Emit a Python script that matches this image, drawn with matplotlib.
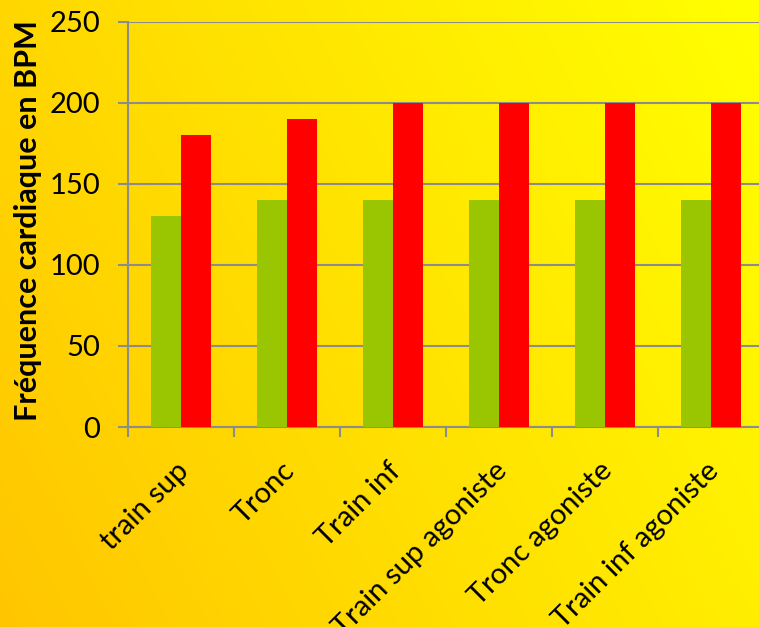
import numpy as np
import matplotlib.pyplot as plt

categories = ['train sup', 'Tronc', 'Train inf', 'Train sup agoniste',
              'Tronc agoniste', 'Train inf agoniste']
serie_verte = [130, 140, 140, 140, 140, 140]
serie_rouge = [180, 190, 200, 200, 200, 200]
yticks = [0, 50, 100, 150, 200, 250]

plt.rcParams['font.family'] = ['Lato', 'DejaVu Sans']

fig = plt.figure(figsize=(7.59, 6.27), dpi=100)

# fond en dégradé orange -> jaune
bg = fig.add_axes([0, 0, 1, 1], zorder=0)
xx, yy = np.meshgrid(np.linspace(0, 1, 300), np.linspace(0, 1, 300))
g = 198 + 57 * (0.7 * xx + 0.3 * yy)
img = np.dstack([np.ones_like(g), g / 255, np.zeros_like(g)])
bg.imshow(img, origin='lower', extent=[0, 1, 0, 1], aspect='auto')
bg.axis('off')

ax = fig.add_axes([128 / 759, 200 / 627, 636 / 759, 405 / 627], zorder=1)
ax.set_facecolor('none')

x = np.arange(len(categories))
w = 0.283
ax.bar(x - w / 2, serie_verte, w, color='#99C600', zorder=3)
ax.bar(x + w / 2, serie_rouge, w, color='#FF0000', zorder=3)

ax.set_xlim(-0.5, len(categories) - 0.5)
ax.set_ylim(0, 250)
ax.set_yticks(yticks)
ax.yaxis.grid(True, color='#8C8C8C', linewidth=1.5, zorder=0)
ax.tick_params(axis='y', length=7, width=1.5, color='#8C8C8C', labelsize=21, pad=13)

ax.set_xticks(np.arange(len(categories) + 1) - 0.5)
ax.set_xticklabels([])
ax.tick_params(axis='x', length=7, width=1.5, color='#8C8C8C')
for i, c in enumerate(categories):
    ax.annotate(c, xy=(i, 0), xycoords=('data', 'axes fraction'),
                xytext=(-4, -22), textcoords='offset points',
                rotation=45, ha='right', va='top', rotation_mode='anchor',
                fontsize=21)

for s in ['top', 'right']:
    ax.spines[s].set_visible(False)
for s in ['left', 'bottom']:
    ax.spines[s].set_color('#8C8C8C')
    ax.spines[s].set_linewidth(1.5)

fig.text(28 / 759, 1 - 221 / 627, 'Fréquence cardiaque en BPM', rotation=90,
         ha='center', va='center', fontsize=22, fontweight='bold')

fig.savefig('out.png', dpi=100)
